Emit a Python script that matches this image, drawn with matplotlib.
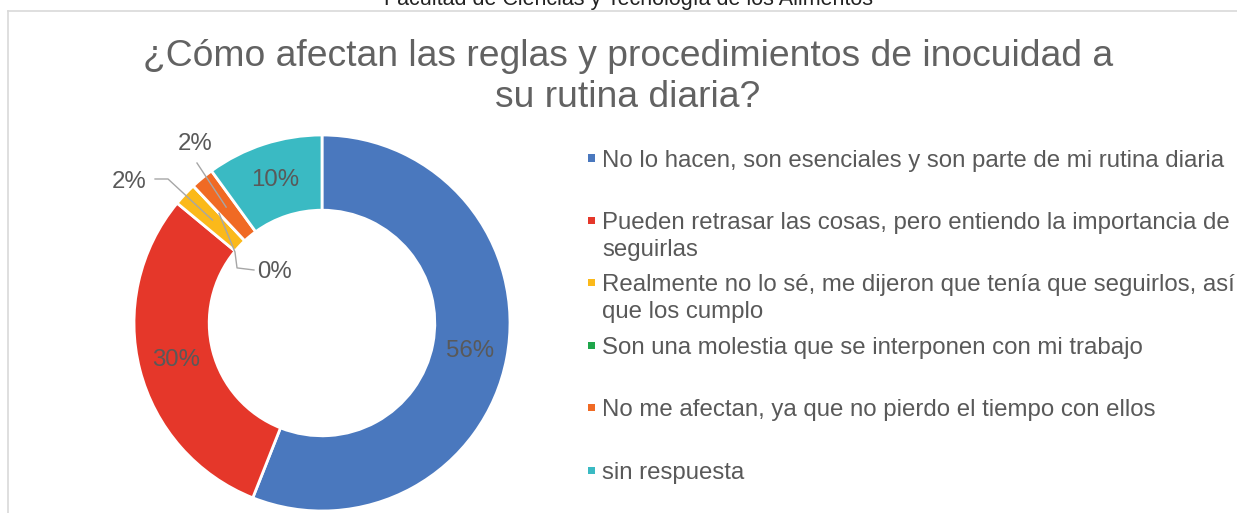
import numpy as np
import matplotlib
matplotlib.use("Agg")
import matplotlib.pyplot as plt
from matplotlib.patches import Rectangle
from matplotlib.lines import Line2D

plt.rcParams['font.family'] = ['Liberation Sans', 'DejaVu Sans']

# data
categories = [
    "No lo hacen, son esenciales y son parte de mi rutina diaria",
    "Pueden retrasar las cosas, pero entiendo la importancia de\nseguirlas",
    "Realmente no lo sé, me dijeron que tenía que seguirlos, así\nque los cumplo",
    "Son una molestia que se interponen con mi trabajo",
    "No me afectan, ya que no pierdo el tiempo con ellos",
    "sin respuesta",
]
values = [28, 15, 1, 0, 1, 5]
pct_labels = ["56%", "30%", "2%", "0%", "2%", "10%"]
colors = ["#4A78BE", "#E5372A", "#FBB91A", "#1FA64B", "#F06A24", "#3ABAC3"]

title = "¿Cómo afectan las reglas y procedimientos de inocuidad a\nsu rutina diaria?"
header = "Facultad de Ciencias y Tecnología de los Alimentos"

W, H = 1237, 513
fig = plt.figure(figsize=(W / 100, H / 100), dpi=100)
fig.patch.set_facecolor("white")

txt_color = "#595959"
fs = 17.3

# header text cut at top and chart border
fig.text(628 / W, 1 - 5.5 / H, header, ha="center", va="baseline",
         fontsize=15.5, color="#222222")
fig.add_artist(Line2D([8 / W, 1], [1 - 10.5 / H, 1 - 10.5 / H],
                      transform=fig.transFigure, color="#D9D9D9", lw=1.2))
fig.add_artist(Line2D([8 / W, 8 / W], [0, 1 - 10.5 / H],
                      transform=fig.transFigure, color="#D9D9D9", lw=1.2))

fig.text(628 / W, 1 - 77 / H, title, ha="center", va="center",
         fontsize=26.8, color="#626262", linespacing=1.22)

# donut axes: radius 1 -> 188 px, center at (322, 323)
R = 188
cx, cy = 322, 323
span = 1.5
ax = fig.add_axes([(cx - span * R) / W, (H - cy - span * R) / H,
                   2 * span * R / W, 2 * span * R / H])

wedges, _ = ax.pie(values, colors=colors, startangle=90, counterclock=False,
                   radius=1, wedgeprops=dict(width=0.4, edgecolor="white", linewidth=2))
ax.set_xlim(-span, span)
ax.set_ylim(-span, span)
ax.axis("off")

total = float(sum(values))
cum = np.cumsum([0] + values[:-1])
mid_angles = [90 - 360 * (c + v / 2) / total for c, v in zip(cum, values)]

inside = {0, 1, 5}
# outside label placement: text position, alignment, leader path (data units)
outside = {
    2: dict(xy=(-0.936, 0.750), ha="right", path=[(-0.888, 0.766), (-0.819, 0.766)]),
    4: dict(xy=(-0.676, 0.950), ha="center", path=[(-0.665, 0.851)]),
    3: dict(xy=(-0.345, 0.272), ha="left", path=[(-0.362, 0.282), (-0.452, 0.293), (-0.463, 0.378)]),
}

for i, lab in enumerate(pct_labels):
    a = np.deg2rad(mid_angles[i])
    ax_, ay_ = 0.8 * np.cos(a), 0.8 * np.sin(a)
    if i in inside:
        ax.text(ax_, ay_, lab, ha="center", va="center", fontsize=fs, color=txt_color)
    else:
        o = outside[i]
        ax.text(o["xy"][0], o["xy"][1], lab, ha=o["ha"], va="center",
                fontsize=fs, color=txt_color)
        pts = o["path"] + [(ax_, ay_)]
        ax.plot([p[0] for p in pts], [p[1] for p in pts], color="#A6A6A6", lw=1)

# legend, drawn manually in Excel layout (each entry gets an equal slot)
leg_x_marker = 588
leg_x_text = 602
leg_y0 = 158
leg_step = 62.4
line_pitch = 27
for i, (lab, col) in enumerate(zip(categories, colors)):
    y = leg_y0 + i * leg_step
    fig.add_artist(Rectangle((leg_x_marker / W, (H - y - 3.5) / H), 7 / W, 7 / H,
                             transform=fig.transFigure, color=col, lw=0))
    for k, line in enumerate(lab.split("\n")):
        fig.text(leg_x_text / W, (H - y - 8.5 - k * line_pitch) / H, line,
                 ha="left", va="baseline", fontsize=fs, color=txt_color)

fig.savefig("out.png", dpi=100)
